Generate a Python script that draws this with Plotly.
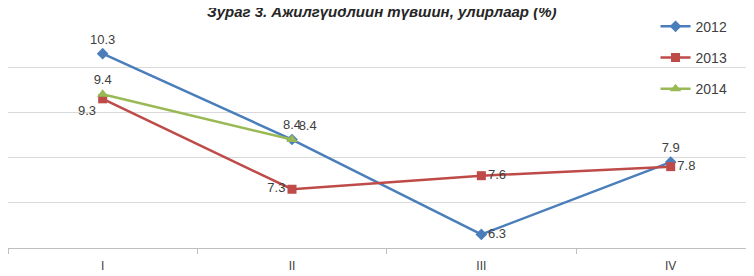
import plotly.graph_objects as go

quarters = ["I", "II", "III", "IV"]
s2012 = [10.3, 8.4, 6.3, 7.9]
s2013 = [9.3, 7.3, 7.6, 7.8]
s2014 = [9.4, 8.4, None, None]
title_text = "Зураг 3. Ажилгүйдлийн түвшин, улирлаар (%)"

pos2012 = ["top center", "top right", "middle right", "top center"]
pos2013 = ["bottom left", "middle left", "middle right", "middle right"]
pos2014 = ["top center", "top center", "top center", "top center"]

FONT = "Liberation Sans, Arial, sans-serif"
LBL = dict(family=FONT, size=13, color="#404040")


def labels(vals):
    return [("" if v is None else f"{v:.1f}") for v in vals]


fig = go.Figure()
fig.add_trace(go.Scatter(
    x=quarters, y=s2012, name="2012", mode="lines+markers+text",
    line=dict(color="#4A7EBB", width=2.5),
    marker=dict(symbol="diamond", size=9, color="#4A7EBB"),
    text=labels(s2012), textposition=pos2012, textfont=LBL,
    legendgroup="a", cliponaxis=False))
fig.add_trace(go.Scatter(
    x=quarters, y=s2013, name="2013", mode="lines+markers+text",
    line=dict(color="#BE4B48", width=2.5),
    marker=dict(symbol="square", size=9, color="#BE4B48"),
    text=labels(s2013), textposition=pos2013, textfont=LBL,
    legendgroup="b", cliponaxis=False))
fig.add_trace(go.Scatter(
    x=quarters, y=s2014, name="2014", mode="lines+markers+text",
    line=dict(color="#98B954", width=2.5),
    marker=dict(symbol="triangle-up", size=10, color="#98B954"),
    text=labels(s2014), textposition=pos2014, textfont=LBL,
    legendgroup="c", cliponaxis=False))

fig.update_layout(
    width=746, height=268,
    margin=dict(l=0, r=0, t=14, b=28, autoexpand=False),
    paper_bgcolor="white", plot_bgcolor="white",
    font=dict(family=FONT, size=13, color="#404040"),
    showlegend=True,
    legend=dict(x=0.868, y=0.99, xref="container", yref="container",
                xanchor="left", yanchor="top",
                bgcolor="rgba(0,0,0,0)", tracegroupgap=10,
                traceorder="grouped", itemwidth=30,
                font=dict(family=FONT, size=14, color="#404040")),
    xaxis=dict(type="category", range=[-0.5, 3.44], tickson="boundaries",
               ticks="outside", ticklen=5, tickcolor="#BFBFBF",
               ticklabelstandoff=7,
               showline=True, linecolor="#BFBFBF", linewidth=1,
               showgrid=False, tickfont=dict(family=FONT, size=12, color="#404040")),
    yaxis=dict(range=[6, 11], dtick=1, showticklabels=False, showgrid=True,
               gridcolor="#D9D9D9", zeroline=False, showline=False, ticks=""),
    annotations=[dict(text="<b><i>" + title_text + "</i></b>", xref="paper", yref="paper",
                      x=0.5, y=1, xanchor="center", yanchor="bottom", yshift=0,
                      showarrow=False,
                      font=dict(family=FONT, size=15, color="#262626"))],
)

fig.write_html("out.html")
